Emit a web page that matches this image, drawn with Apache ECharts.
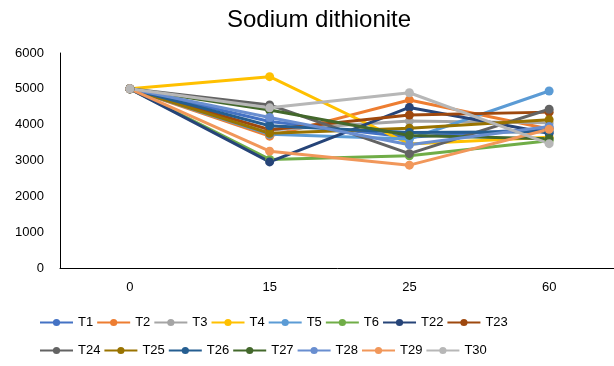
<!DOCTYPE html>
<html>
<head>
<meta charset="utf-8">
<script src="https://cdn.jsdelivr.net/npm/echarts@6/dist/echarts.min.js"></script>
<style>
  html, body { margin: 0; padding: 0; background: #fff; }
  #chart { width: 614px; height: 366px; }
</style>
</head>
<body>
<div id="chart"></div>
<script>
// Sampling times (x categories)
const times = ['0', '15', '25', '60'];

// Series names and colours
const names = ['T1', 'T2', 'T3', 'T4', 'T5', 'T6', 'T22', 'T23', 'T24', 'T25', 'T26', 'T27', 'T28', 'T29', 'T30'];
const colors = ['#4472C4', '#ED7D31', '#A5A5A5', '#FFC000', '#5B9BD5', '#70AD47', '#264478', '#9E480E',
                '#636363', '#997300', '#255E91', '#43682B', '#698ED0', '#F1975A', '#B7B7B7'];

// Measured values per treatment
const T1  = [5000, 4090, 3650, 3900];
const T2  = [5000, 3680, 4690, 3880];
const T3  = [5000, 3850, 4100, 4050];
const T4  = [5000, 5340, 3460, 3650];
const T5  = [5000, 3730, 3600, 4940];
const T6  = [5000, 3030, 3130, 3550];
const T22 = [5000, 2960, 4480, 3760];
const T23 = [5000, 3860, 4270, 4350];
const T24 = [5000, 4550, 3190, 4430];
const T25 = [5000, 3760, 3900, 4140];
const T26 = [5000, 3970, 3780, 3800];
const T27 = [5000, 4410, 3700, 3610];
const T28 = [5000, 4200, 3440, 3950];
const T29 = [5000, 3260, 2870, 3870];
const T30 = [5000, 4470, 4890, 3470];

const values = [T1, T2, T3, T4, T5, T6, T22, T23, T24, T25, T26, T27, T28, T29, T30];

const FONT = 'Liberation Sans, Arial, sans-serif';

const chart = echarts.init(document.getElementById('chart'), null, { renderer: 'canvas' });

const legendCommon = {
  left: 34,
  orient: 'horizontal',
  itemWidth: 33,
  itemHeight: 9,
  itemGap: 3,
  textStyle: { fontFamily: FONT, fontSize: 13, color: '#000', width: 22 }
};

chart.setOption({
  animation: false,
  title: {
    text: 'Sodium dithionite',
    left: 222,
    top: 3,
    textStyle: { fontFamily: FONT, fontSize: 24, fontWeight: 'normal', color: '#000' }
  },
  legend: [
    Object.assign({ top: 311, data: names.slice(0, 8) }, legendCommon),
    Object.assign({ top: 339, data: names.slice(8) }, legendCommon)
  ],
  grid: {
    left: 60, width: 559, top: 53, height: 215,
    containLabel: false,
    outerBoundsMode: 'none'
  },
  xAxis: {
    type: 'category',
    data: times,
    boundaryGap: true,
    axisLine: { lineStyle: { color: '#000', width: 1 } },
    axisTick: { show: false },
    axisLabel: { fontFamily: FONT, fontSize: 13, color: '#000', margin: 13 }
  },
  yAxis: {
    type: 'value',
    min: 0,
    max: 6000,
    interval: 1000,
    axisLine: { show: true, lineStyle: { color: '#000', width: 1 } },
    axisTick: { show: false },
    splitLine: { show: false },
    axisLabel: {
      fontFamily: FONT, fontSize: 13, color: '#000', margin: 16,
      formatter: v => String(v)
    }
  },
  series: names.map((n, i) => ({
    name: n,
    type: 'line',
    data: values[i],
    symbol: 'circle',
    symbolSize: 9,
    color: colors[i],
    lineStyle: { width: 3, color: colors[i] },
    itemStyle: { color: colors[i] }
  }))
});
</script>
</body>
</html>
